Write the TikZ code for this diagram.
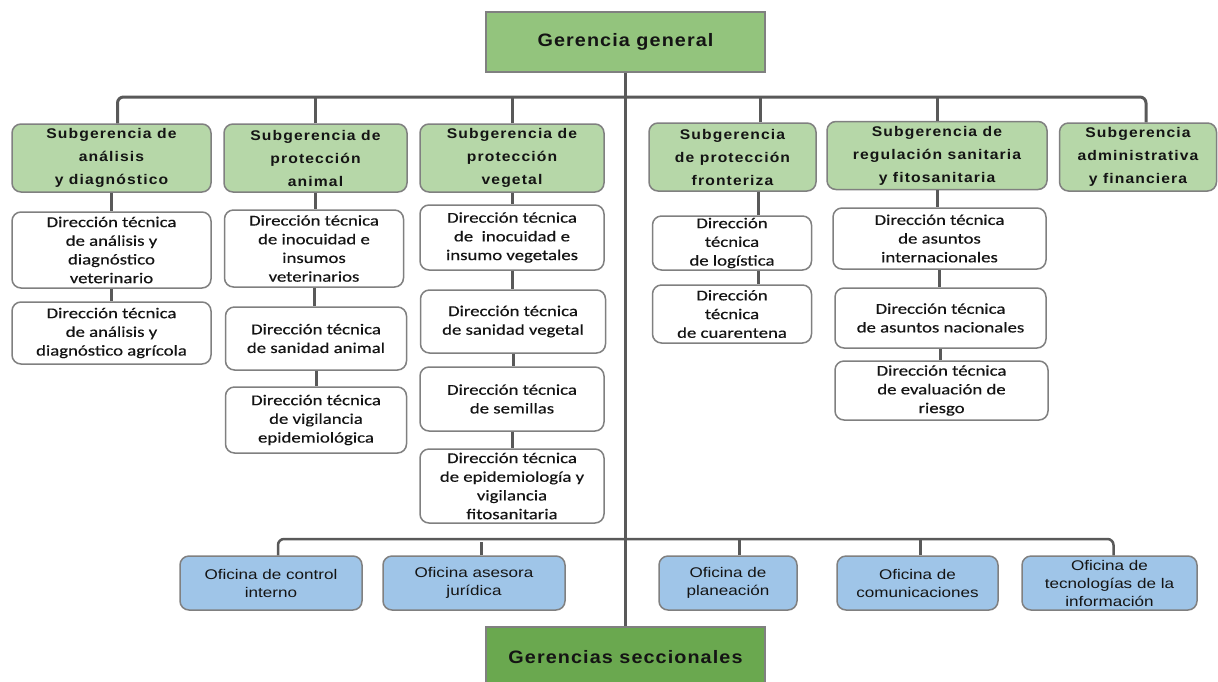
\documentclass[tikz,border=0pt]{standalone}
\usepackage{fontspec}
\setmainfont{Liberation Sans}
\newfontfamily\subfont{Liberation Sans}[FakeStretch=1.12,LetterSpace=8]
\newfontfamily\dirfont{Carlito}[FakeStretch=1.25,FakeBold=0.4]
\newfontfamily\ofifont{Liberation Sans}[FakeStretch=1.22]
\newfontfamily\gerfont{Liberation Sans}[FakeStretch=1.1,LetterSpace=6]
\definecolor{gerfill}{HTML}{93C47D}
\definecolor{secfill}{HTML}{6AA84F}
\definecolor{subfill}{HTML}{B6D7A8}
\definecolor{ofifill}{HTML}{9FC5E8}
\definecolor{boxline}{HTML}{808080}
\definecolor{wire}{HTML}{595959}
\definecolor{ink}{HTML}{141414}

\begin{document}
\begin{tikzpicture}[x=1pt,y=-1pt,
  ger/.style={draw=boxline,line width=1.5,minimum width=279,minimum height=60,inner sep=0,
    text=ink,font=\gerfont\bfseries\fontsize{18}{22}\selectfont},
  subbox/.style={draw=boxline,fill=subfill,line width=1.5,rounded corners=9,inner sep=0,
    minimum height=68,align=center,text=ink,font=\subfont\bfseries\fontsize{14}{23}\selectfont},
  dirbox/.style={draw=boxline,fill=white,line width=1.5,rounded corners=9,inner sep=0,
    align=center,text=ink,font=\dirfont\fontsize{15}{18.7}\selectfont},
  ofibox/.style={draw=boxline,fill=ofifill,line width=1.5,rounded corners=9,inner sep=0,
    minimum height=54,align=center,text=ink,font=\ofifont\fontsize{14}{18}\selectfont},
  link/.style={draw=wire,line width=3}]
\path[use as bounding box,clip] (0,0) rectangle (1218,681);

\node[ger,fill=gerfill] (gg) at (625.5,42) {Gerencia general};
\node[ger,fill=secfill] (gs) at (625.5,657) {Gerencias seccionales};

\node[subbox,minimum width=199] (sub1) at (111.5,158) {Subgerencia de\\análisis\\y diagnóstico};
\node[subbox,minimum width=183] (sub2) at (315.5,158) {Subgerencia de\\protección\\animal};
\node[subbox,minimum width=184] (sub3) at (512,158) {Subgerencia de\\protección\\vegetal};
\node[subbox,minimum width=167] (sub4) at (732.5,157) {Subgerencia\\de protección\\fronteriza};
\node[subbox,minimum width=220] (sub5) at (937,155.5) {Subgerencia de\\regulación sanitaria\\y fitosanitaria};
\node[subbox,minimum width=157] (sub6) at (1138,157) {Subgerencia\\administrativa\\y financiera};

\node[dirbox,minimum width=199,minimum height=76] (d11) at (111.5,250) {Dirección técnica\\de análisis y\\diagnóstico\\veterinario};
\node[dirbox,minimum width=199,minimum height=62] (d12) at (111.5,333) {Dirección técnica\\de análisis y\\diagnóstico agrícola};

\node[dirbox,minimum width=179,minimum height=77] (d21) at (314,248.5) {Dirección técnica\\de inocuidad e\\insumos\\veterinarios};
\node[dirbox,minimum width=181,minimum height=63] (d22) at (316,338.5) {Dirección técnica\\de sanidad animal};
\node[dirbox,minimum width=181,minimum height=66] (d23) at (316,420) {Dirección técnica\\de vigilancia\\epidemiológica};

\node[dirbox,minimum width=184,minimum height=65] (d31) at (512,237.5) {Dirección técnica\\de \ inocuidad e\\insumo vegetales};
\node[dirbox,minimum width=185,minimum height=63] (d32) at (513,321.5) {Dirección técnica\\de sanidad vegetal};
\node[dirbox,minimum width=184,minimum height=64] (d33) at (512,399) {Dirección técnica\\de semillas};
\node[dirbox,minimum width=184,minimum height=74] (d34) at (512,486) {Dirección técnica\\de epidemiología y\\vigilancia\\fitosanitaria};

\node[dirbox,minimum width=159,minimum height=54] (d41) at (732,243) {Dirección\\técnica\\de logística};
\node[dirbox,minimum width=159,minimum height=58] (d42) at (732,314) {Dirección\\técnica\\de cuarentena};

\node[dirbox,minimum width=213,minimum height=61] (d51) at (939.5,238.5) {Dirección técnica\\de asuntos\\internacionales};
\node[dirbox,minimum width=211,minimum height=60] (d52) at (940.5,318) {Dirección técnica\\de asuntos nacionales};
\node[dirbox,minimum width=213,minimum height=59] (d53) at (941.5,390.5) {Dirección técnica\\de evaluación de\\riesgo};

\node[ofibox,minimum width=182] (o1) at (271,583) {Oficina de control\\interno};
\node[ofibox,minimum width=182] (o2) at (474,583) {Oficina asesora\\jurídica};
\node[ofibox,minimum width=138] (o3) at (728,583) {Oficina de\\planeación};
\node[ofibox,minimum width=161] (o4) at (917.5,583) {Oficina de\\comunicaciones};
\node[ofibox,minimum width=175] (o5) at (1109.5,583) {Oficina de\\tecnologías de la\\información};

\coordinate (topbus) at (625.5,97);
\coordinate (lowbus) at (625.5,539);

\draw[link] (gg.south) -- (gs.north);
\draw[link,rounded corners=6] ([xshift=6]sub1.north) |- (topbus) -| ([xshift=8]sub6.north);
\foreach \s in {sub2,sub3,sub5}
  \draw[link] (\s.north) -- (\s.north |- topbus);
\draw[link] ([xshift=28]sub4.north) -- ([xshift=28]sub4.north |- topbus);

\foreach \a/\b in {sub1/d11,d11/d12,sub2/d21,d21/d22,d22/d23,sub3/d31,d31/d32,d32/d33,d33/d34,sub5/d51,d51/d52,d52/d53}
  \draw[link] (\a.south) -- (\a.south |- \b.north);
\draw[link] ([xshift=26]sub4.south) -- ([xshift=26]sub4.south |- d41.north);
\draw[link] ([xshift=26]d41.south) -- ([xshift=26]d41.south |- d42.north);

\draw[link,line width=2.5,rounded corners=6] ([xshift=7]o1.north) |- (lowbus) -| ([xshift=4]o5.north);
\draw[link] ([xshift=7]o2.north) -- ([xshift=7,yshift=-3]o2.north |- lowbus);
\draw[link] ([xshift=11]o3.north) -- ([xshift=11]o3.north |- lowbus);
\draw[link] ([xshift=3]o4.north) -- ([xshift=3]o4.north |- lowbus);
\end{tikzpicture}
\end{document}
